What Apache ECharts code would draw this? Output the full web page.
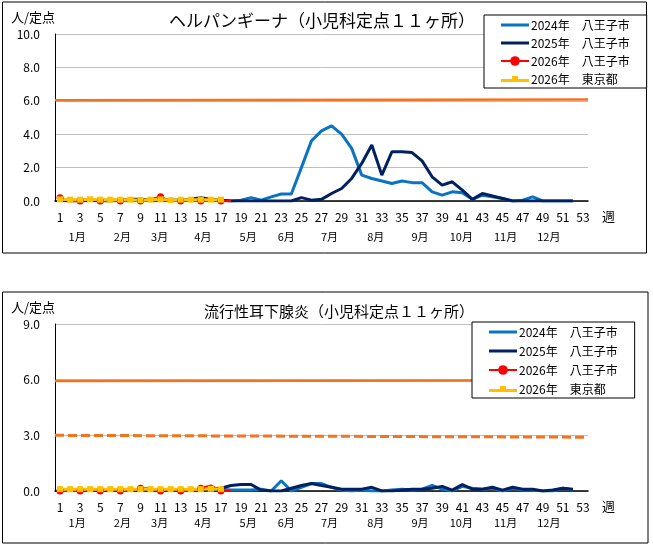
<!DOCTYPE html>
<html lang="ja">

<head>
    <meta charset="UTF-8">
    <title>定点報告</title>
    <script src="https://cdn.jsdelivr.net/npm/echarts@6/dist/echarts.min.js"></script>
    <style>
        html, body { margin: 0; padding: 0; background: #fff; }
    </style>
</head>

<body>
    <div id="main" style="width: 653px;height:546px;"></div>

    <script>
        // 週 1〜53
        var weeks = [];
        for (var i = 1; i <= 53; i++) weeks.push(String(i));

        var monthLabels = ["1月", "2月", "3月", "4月", "5月", "6月", "7月", "8月", "9月", "10月", "11月", "12月"];
        var monthPos = [2.7, 7.2, 10.9, 15.2, 19.7, 23.5, 27.8, 32.4, 36.8, 40.9, 45.3, 49.6];

        var names = ["2024年　八王子市", "2025年　八王子市", "2026年　八王子市", "2026年　東京都"];

        // ヘルパンギーナ
        var herp2024 = [0.1, 0.05, 0.05, 0.05, 0.05, 0.05, 0.05, 0.1, 0.05, 0.05, 0.1, 0.05, 0.05, 0.05, 0.1, 0.05, 0.05,
            0, 0.05, 0.2, 0.05, 0.25, 0.42, 0.42, 2.0, 3.6, 4.2, 4.5, 4.0, 3.15, 1.55, 1.35, 1.2, 1.05, 1.2, 1.1, 1.1,
            0.55, 0.35, 0.55, 0.5, 0.1, 0.35, 0.25, 0.15, 0, 0.05, 0.25, 0, 0, 0, 0, null];
        var herp2025 = [0.05, 0, 0, 0.05, 0, 0, 0.05, 0.1, 0.1, 0.05, 0.1, 0.05, 0.05, 0.1, 0.2, 0.1, 0.05,
            0, 0, 0, 0, 0, 0, 0, 0.2, 0.05, 0.1, 0.45, 0.75, 1.35, 2.25, 3.35, 1.55, 2.95, 2.95, 2.9, 2.4,
            1.45, 0.95, 1.15, 0.65, 0.1, 0.45, 0.3, 0.15, 0, 0, 0, 0, 0, 0, 0, null];
        var herp2026 = [0.2, 0, 0, 0.15, 0, 0, 0, 0, 0, 0.1, 0.25, 0, 0, 0, 0, 0, 0, 0];
        var herpTokyo = [0.1, 0.08, 0.08, 0.1, 0.08, 0.08, 0.08, 0.08, 0.05, 0.08, 0.1, 0.05, 0.08, 0.08, 0.08, 0.08, 0.08];
        var herpLevel = [[0.5, 6.03], [53.5, 6.08]];

        // 流行性耳下腺炎
        var mump2024 = [0.05, 0.05, 0.05, 0.05, 0.05, 0.05, 0.05, 0.05, 0.05, 0.05, 0.05, 0.05, 0.05, 0.05, 0.05, 0.05, 0.1,
            0.05, 0.05, 0.05, 0.1, 0, 0.55, 0, 0.2, 0.4, 0.4, 0.2, 0.05, 0, 0.05, 0, 0, 0.05, 0.1, 0.05, 0.1,
            0.3, 0.1, 0, 0.25, 0.15, 0.1, 0.15, 0, 0.15, 0.05, 0.05, 0, 0, 0.15, 0.05, null];
        var mump2025 = [0.05, 0.05, 0.05, 0.05, 0.05, 0.05, 0.05, 0.05, 0.05, 0.05, 0.05, 0.05, 0.05, 0.05, 0.05, 0.1, 0.15,
            0.3, 0.35, 0.35, 0.05, 0, 0, 0.15, 0.3, 0.4, 0.3, 0.2, 0.1, 0.1, 0.1, 0.2, 0, 0, 0.05, 0.1, 0.1,
            0.15, 0.25, 0.05, 0.35, 0.1, 0.1, 0.2, 0.05, 0.2, 0.1, 0.1, 0, 0.05, 0.15, 0.1, null];
        var mump2026 = [0, 0, 0, 0.15, 0, 0.15, 0, 0, 0.15, 0.15, 0, 0.15, 0, 0, 0.15, 0.3, 0, 0];
        var mumpTokyo = [0.1, 0.1, 0.1, 0.1, 0.1, 0.1, 0.1, 0.1, 0.1, 0.1, 0.1, 0.1, 0.1, 0.1, 0.1, 0.12, 0.1];
        var mumpLevelA = [[0.5, 5.93], [53.5, 5.95]];
        var mumpLevelB = [[0.5, 3.0], [53.5, 2.9]];

        var font = "'Noto Sans CJK JP', 'Noto Sans', sans-serif";
        var colors = ["#0A74C4", "#002060", "#FF0000", "#FFC000"];
        var orange = "#F47321";

        var chart1 = echarts.init(document.getElementById('main'));

        function weekAxis(grid) {
            return {
                gridIndex: grid,
                type: 'category',
                data: weeks,
                boundaryGap: true,
                name: '週',
                nameLocation: 'end',
                nameGap: 14,
                nameTextStyle: { color: '#000', fontSize: 13, fontFamily: font, verticalAlign: 'top', padding: [9, 0, 0, 0] },
                axisLine: { lineStyle: { color: '#000', width: 1.5 } },
                axisTick: { show: false },
                axisLabel: { interval: 1, color: '#000', fontSize: 12, fontFamily: font, margin: 10 }
            };
        }

        // 月ラベル用（週の位置を値で持つ軸）
        function monthAxis(grid, offset) {
            return {
                gridIndex: grid,
                type: 'value',
                min: 0.5,
                max: 53.5,
                position: 'bottom',
                offset: offset,
                axisLine: { show: false },
                axisTick: { show: false },
                splitLine: { show: false },
                axisLabel: {
                    customValues: monthPos,
                    color: '#000',
                    fontSize: 11,
                    fontFamily: font,
                    margin: 8,
                    formatter: function (v) {
                        for (var k = 0; k < monthPos.length; k++) {
                            if (Math.abs(monthPos[k] - v) < 0.01) return monthLabels[k];
                        }
                        return '';
                    }
                }
            };
        }

        function valueAxis(grid, max, interval) {
            return {
                gridIndex: grid,
                type: 'value',
                min: 0,
                max: max,
                interval: interval,
                name: '人/定点',
                nameLocation: 'end',
                nameGap: 17,
                nameTextStyle: { color: '#000', fontSize: 13, fontFamily: font, align: 'right', verticalAlign: 'middle' },
                axisLine: { show: true, lineStyle: { color: '#000', width: 1 } },
                axisTick: { show: false },
                splitLine: { lineStyle: { color: '#BFBFBF', width: 1 } },
                axisLabel: {
                    color: '#000', fontSize: 12, fontFamily: font, margin: 15,
                    formatter: function (v) { return v.toFixed(1); }
                }
            };
        }

        function seriesFor(grid, d24, d25, d26, dTokyo) {
            return [
                {
                    name: names[0], type: 'line', xAxisIndex: grid * 2, yAxisIndex: grid, data: d24,
                    symbol: 'none', lineStyle: { color: colors[0], width: 3 }, itemStyle: { color: colors[0] }
                },
                {
                    name: names[1], type: 'line', xAxisIndex: grid * 2, yAxisIndex: grid, data: d25,
                    symbol: 'none', lineStyle: { color: colors[1], width: 3 }, itemStyle: { color: colors[1] }
                },
                {
                    name: names[2], type: 'line', xAxisIndex: grid * 2, yAxisIndex: grid, data: d26,
                    symbol: 'circle', symbolSize: 7, lineStyle: { color: colors[2], width: 2 }, itemStyle: { color: colors[2] }
                },
                {
                    name: names[3], type: 'line', xAxisIndex: grid * 2, yAxisIndex: grid, data: dTokyo,
                    symbol: 'rect', symbolSize: 6, lineStyle: { color: colors[3], width: 3 }, itemStyle: { color: colors[3] }
                }
            ];
        }

        function levelLine(grid, name, data, dashed) {
            return {
                name: name, type: 'line', xAxisIndex: grid * 2 + 1, yAxisIndex: grid, data: data,
                symbol: 'none', z: 1,
                lineStyle: { color: orange, width: dashed ? 3 : 2.5, type: dashed ? [9, 4] : 'solid' }
            };
        }

        var lineIcon = 'path://M0,0H28V3H0Z';
        var squareIcon = 'path://M0,3H28V6H0Z M11,0H17V6H11Z';

        function legendAt(left, top, gap) {
            return {
                data: [
                    { name: names[0], icon: lineIcon },
                    { name: names[1], icon: lineIcon },
                    { name: names[2] },
                    { name: names[3], icon: squareIcon }
                ],
                orient: 'vertical',
                left: left,
                top: top,
                itemWidth: 28,
                itemHeight: 12,
                itemGap: gap,
                symbolKeepAspect: true,
                padding: [4, 17, 3, 16],
                borderColor: '#000',
                borderWidth: 1,
                borderRadius: 0,
                backgroundColor: '#fff',
                selectedMode: false,
                textStyle: { color: '#000', fontSize: 12, fontFamily: font, padding: [0, 0, 0, -3] }
            };
        }

        var option = {
            animation: false,
            backgroundColor: '#fff',
            title: [
                {
                    text: 'ヘルパンギーナ（小児科定点１１ヶ所）', left: 317, top: 7, textAlign: 'center',
                    textStyle: { color: '#000', fontSize: 17, fontWeight: 'normal', fontFamily: font }
                },
                {
                    text: '流行性耳下腺炎（小児科定点１１ヶ所）', left: 334, top: 299, textAlign: 'center',
                    textStyle: { color: '#000', fontSize: 15, fontWeight: 'normal', fontFamily: font }
                }
            ],
            legend: [legendAt(484, 15, 6), legendAt(472, 322, 7)],
            grid: [
                { left: 55, top: 34, width: 533, height: 167 },
                { left: 55, top: 324, width: 533, height: 167 }
            ],
            xAxis: [weekAxis(0), monthAxis(0, 22), weekAxis(1), monthAxis(1, 18)],
            yAxis: [valueAxis(0, 10, 2), valueAxis(1, 9, 3)],
            series: [levelLine(0, '警報', herpLevel, false)]
                .concat(seriesFor(0, herp2024, herp2025, herp2026, herpTokyo))
                .concat([levelLine(1, '警報', mumpLevelA, false), levelLine(1, '注意報', mumpLevelB, true)])
                .concat(seriesFor(1, mump2024, mump2025, mump2026, mumpTokyo)),
            graphic: [
                { type: 'rect', shape: { x: 2.5, y: 2, width: 644, height: 251 }, style: { fill: 'none', stroke: '#000', lineWidth: 1 }, z: -1 },
                { type: 'rect', shape: { x: 2.5, y: 292, width: 645.5, height: 251 }, style: { fill: 'none', stroke: '#000', lineWidth: 1 }, z: -1 }
            ]
        };

        chart1.setOption(option);
    </script>
</body>

</html>
